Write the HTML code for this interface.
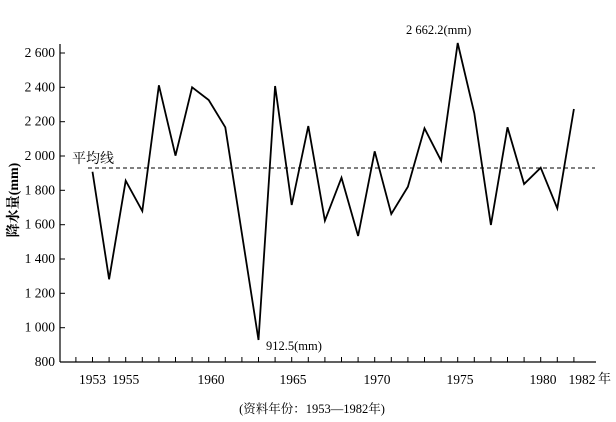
<!DOCTYPE html>
<html><head><meta charset="utf-8"><style>
html,body{margin:0;padding:0;background:#fff;}
svg{display:block;font-family:"Liberation Serif","Noto Serif CJK SC",serif;}
</style></head><body>
<svg width="616" height="422" viewBox="0 0 616 422" xmlns="http://www.w3.org/2000/svg">
<g stroke="#000" stroke-width="1.2" fill="none">
<line x1="60" y1="44" x2="60" y2="362"/>
<line x1="60" y1="362" x2="596" y2="362"/>
</g>
<g stroke="#000" stroke-width="1">
<line x1="60" y1="53" x2="65" y2="53"/><line x1="60" y1="87.3" x2="65" y2="87.3"/><line x1="60" y1="121.7" x2="65" y2="121.7"/><line x1="60" y1="156" x2="65" y2="156"/><line x1="60" y1="190.3" x2="65" y2="190.3"/><line x1="60" y1="224.7" x2="65" y2="224.7"/><line x1="60" y1="259" x2="65" y2="259"/><line x1="60" y1="293.3" x2="65" y2="293.3"/><line x1="60" y1="327.7" x2="65" y2="327.7"/>
</g>
<path stroke="#000" stroke-width="1" fill="none" d="M75.9 362v-5M92.5 362v-5M109.1 362v-5M125.7 362v-5M142.3 362v-5M158.9 362v-5M175.5 362v-5M192.1 362v-5M208.7 362v-5M225.3 362v-5M241.9 362v-5M258.5 362v-5M275.1 362v-5M291.7 362v-5M308.3 362v-5M324.9 362v-5M341.5 362v-5M358.1 362v-5M374.7 362v-5M391.3 362v-5M407.9 362v-5M424.5 362v-5M441.1 362v-5M457.7 362v-5M474.3 362v-5M490.9 362v-5M507.5 362v-5M524.1 362v-5M540.7 362v-5M557.3 362v-5M573.9 362v-5"/>
<g font-size="13.5" text-anchor="end">
<text x="55" y="57">2 600</text><text x="55" y="91.3">2 400</text><text x="55" y="125.7">2 200</text><text x="55" y="160">2 000</text><text x="55" y="194.3">1 800</text><text x="55" y="228.7">1 600</text><text x="55" y="263">1 400</text><text x="55" y="297.3">1 200</text><text x="55" y="331.7">1 000</text><text x="55" y="366">800</text>
</g>
<g font-size="13.5" text-anchor="middle">
<text x="92.5" y="384">1953</text><text x="125.7" y="384">1955</text><text x="211" y="384">1960</text><text x="293" y="384">1965</text><text x="377" y="384">1970</text><text x="460" y="384">1975</text><text x="543" y="384">1980</text><text x="582" y="384">1982</text>
</g>
<text x="598" y="383" font-size="13">年</text>
<text x="312" y="413" font-size="12.5" text-anchor="middle">(资料年份：1953—1982年)</text>
<text transform="translate(18,200) rotate(-90)" font-size="14" text-anchor="middle" font-weight="bold">降水量(mm)</text>
<text x="72" y="163" font-size="14">平均线</text>
<text x="266" y="350" font-size="12.5">912.5(mm)</text>
<text x="406" y="34" font-size="12.5">2 662.2(mm)</text>
<line x1="88" y1="168" x2="595" y2="168" stroke="#000" stroke-width="0.9" stroke-dasharray="4,3"/>
<polyline fill="none" stroke="#000" stroke-width="1.8" stroke-linejoin="miter" points="92.5,171.7 109.1,279.3 125.7,180.7 142.3,211 158.9,85.3 175.5,155.7 192.1,87.3 208.7,100 225.3,127.3 258.5,340 275.1,86 291.7,205 308.3,126 324.9,220.7 341.5,177.7 358.1,236 374.7,151.3 391.3,214 407.9,186.7 424.5,128.3 441.1,160.7 457.7,43 474.3,113.3 490.9,225 507.5,127.3 524.1,184 540.7,167.7 557.3,208.3 573.9,109"/>
</svg>
</body></html>
